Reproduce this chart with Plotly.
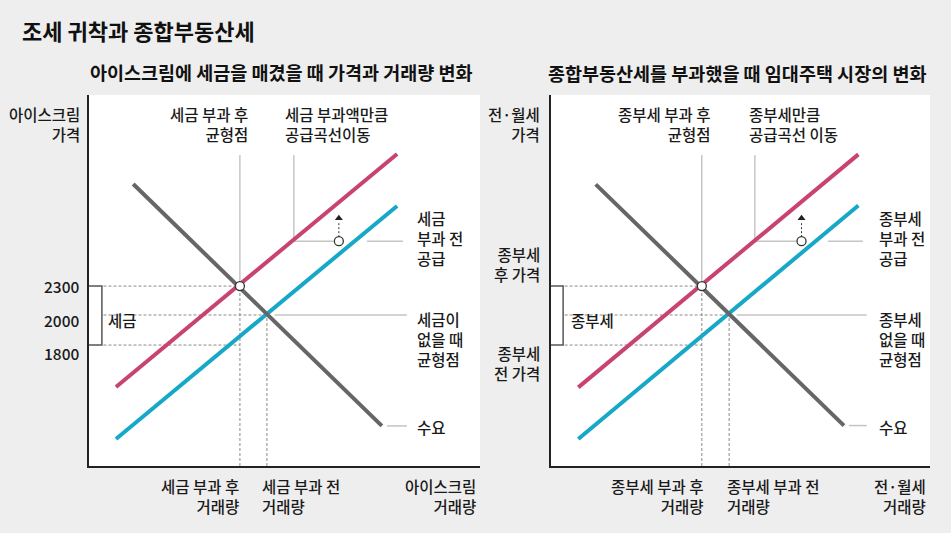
import plotly.graph_objects as go

W, H = 951, 533

# ---------------- data (schematic units, 0-100 on both axes) ----------------
# Left panel: 아이스크림
ice_demand_x = [11.3, 74.9]
ice_demand_y = [76.0, 10.8]
ice_supply_after_x = [6.9, 78.8]
ice_supply_after_y = [21.3, 84.1]
ice_supply_before_x = [6.9, 78.8]
ice_supply_before_y = [7.3, 70.1]
ice_eq_after = [38.6, 48.5]
ice_eq_before = [45.5, 40.7]
ice_price_low = 32.6
ice_shift_point = [63.9, 60.6]
ice_shift_tip = 66.8
ice_price_labels = ["2300", "2000", "1800"]

# Right panel: 임대주택 시장
re_demand_x = [11.8, 77.3]
re_demand_y = [75.9, 10.9]
re_supply_after_x = [7.2, 81.1]
re_supply_after_y = [21.2, 84.0]
re_supply_before_x = [7.2, 81.1]
re_supply_before_y = [7.3, 70.2]
re_eq_after = [39.8, 48.5]
re_eq_before = [47.0, 40.7]
re_price_low = 32.6
re_shift_point = [66.1, 60.6]
re_shift_tip = 66.8

RED = "#c8446f"
BLUE = "#17a8c8"
DEM = "#666666"
LEAD = "#a8a8a8"
DOT = "#8a8a8a"
TXT = "#1a1a1a"
FONT = "Noto Sans CJK KR"

fig = go.Figure()


def seg(xs, ys, xa, ya, color, width, dash=None):
    fig.add_trace(go.Scatter(
        x=xs, y=ys, xaxis=xa, yaxis=ya, mode="lines",
        line=dict(color=color, width=width, dash=dash),
        hoverinfo="skip", showlegend=False))


def panel(xa, ya, dem_x, dem_y, sa_x, sa_y, sb_x, sb_y, eq_a, eq_b, p_low,
          shift_pt, shift_tip, lead_x, gap_x, lead_end, bracket_x):
    dotted = "3px,2px"
    # dotted guides
    seg([bracket_x + 0.4, eq_a[0]], [eq_a[1], eq_a[1]], xa, ya, DOT, 1, dotted)
    seg([bracket_x + 0.4, eq_b[0]], [eq_b[1], eq_b[1]], xa, ya, DOT, 1, dotted)
    seg([bracket_x + 0.4, eq_a[0]], [p_low, p_low], xa, ya, DOT, 1, dotted)
    seg([eq_a[0], eq_a[0]], [0, eq_a[1]], xa, ya, DOT, 1, dotted)
    seg([eq_b[0], eq_b[0]], [0, eq_b[1]], xa, ya, DOT, 1, dotted)
    # solid leader lines
    seg([eq_a[0], eq_a[0]], [eq_a[1], 83.8], xa, ya, LEAD, 1)
    seg([lead_x, lead_x], [shift_pt[1], 83.8], xa, ya, LEAD, 1)
    seg([lead_x, shift_pt[0] - 1.4], [shift_pt[1], shift_pt[1]], xa, ya, LEAD, 1)
    seg([gap_x, lead_end], [shift_pt[1], shift_pt[1]], xa, ya, LEAD, 1)
    seg([eq_b[0] + 2.0, lead_end + 1.0], [eq_b[1], eq_b[1]], xa, ya, LEAD, 1)
    seg([dem_x[1] + 1.3, lead_end + 1.0], [dem_y[1], dem_y[1]], xa, ya, "#c4c4c4", 1.5)
    # bracket
    seg([0, bracket_x, bracket_x, 0], [eq_a[1], eq_a[1], p_low, p_low], xa, ya, "#555555", 1.5)
    # curves
    seg(sb_x, sb_y, xa, ya, BLUE, 4)
    seg(sa_x, sa_y, xa, ya, RED, 4)
    seg(dem_x, dem_y, xa, ya, DEM, 4)
    # shift arrow (dotted stem + head)
    seg([shift_pt[0], shift_pt[0]], [shift_pt[1], shift_tip - 1.0], xa, ya, "#333333", 1, "2px,2px")
    fig.add_trace(go.Scatter(
        x=[shift_pt[0]], y=[shift_tip], xaxis=xa, yaxis=ya, mode="markers",
        marker=dict(symbol="triangle-up", size=7, color="#222222"),
        hoverinfo="skip", showlegend=False))
    # circles
    fig.add_trace(go.Scatter(
        x=[eq_a[0], shift_pt[0]], y=[eq_a[1], shift_pt[1]], xaxis=xa, yaxis=ya,
        mode="markers",
        marker=dict(symbol="circle", size=9, color="white",
                    line=dict(color="#333333", width=1.3)),
        hoverinfo="skip", showlegend=False))


panel("x", "y", ice_demand_x, ice_demand_y, ice_supply_after_x, ice_supply_after_y,
      ice_supply_before_x, ice_supply_before_y, ice_eq_after, ice_eq_before,
      ice_price_low, ice_shift_point, ice_shift_tip,
      lead_x=52.4, gap_x=71.1, lead_end=80.3, bracket_x=3.3)
panel("x2", "y2", re_demand_x, re_demand_y, re_supply_after_x, re_supply_after_y,
      re_supply_before_x, re_supply_before_y, re_eq_after, re_eq_before,
      re_price_low, re_shift_point, re_shift_tip,
      lead_x=53.8, gap_x=73.1, lead_end=82.3, bracket_x=3.2)

annotations = []


def ann(text, x, y, xanchor="left", size=15.5, bold=False, color=TXT):
    annotations.append(dict(
        text=text, x=x / W, y=1 - y / H, xref="paper", yref="paper",
        xanchor=xanchor, yanchor="middle", align=xanchor if xanchor != "center" else "center",
        showarrow=False,
        font=dict(family=FONT, size=size, color=color, weight=700 if bold else 500)))


# titles
ann("조세 귀착과 종합부동산세", 20, 30, "left", 22, True, "#111111")
ann("아이스크림에 세금을 매겼을 때 가격과 거래량 변화", 281.5, 72, "center", 18.5, True, "#111111")
ann("종합부동산세를 부과했을 때 임대주택 시장의 변화", 737, 73, "center", 18.5, True, "#111111")

# left panel labels
ann("아이스크림<br>가격", 82, 124, "right")
ann("세금 부과 후<br>균형점", 250, 124, "right")
ann("세금 부과액만큼<br>공급곡선이동", 283, 124, "left")
ann("세금<br>부과 전<br>공급", 415, 238, "left")
ann("세금이<br>없을 때<br>균형점", 415, 339, "left")
ann("수요", 415, 427, "left")
for lab, yy in zip(ice_price_labels, [286, 320, 353]):
    ann(lab, 82, yy, "right")
ann("세금", 106, 320, "left")
ann("세금 부과 후<br>거래량", 241, 495.5, "right")
ann("세금 부과 전<br>거래량", 260, 495.5, "left")
ann("아이스크림<br>거래량", 478, 495.5, "right")

# right panel labels
ann("전·월세<br>가격", 542, 124, "right")
ann("종부세<br>후 가격", 542, 263.5, "right")
ann("종부세<br>전 가격", 542, 363, "right")
ann("종부세 부과 후<br>균형점", 713, 124, "right")
ann("종부세만큼<br>공급곡선 이동", 747, 124, "left")
ann("종부세<br>부과 전<br>공급", 877, 238, "left")
ann("종부세<br>없을 때<br>균형점", 877, 339, "left")
ann("수요", 877, 427, "left")
ann("종부세", 569, 320, "left")
ann("종부세 부과 후<br>거래량", 706, 495.5, "right")
ann("종부세 부과 전<br>거래량", 725, 495.5, "left")
ann("전·월세<br>거래량", 928, 495.5, "right")

ax_common = dict(range=[0, 100], showgrid=False, zeroline=False, showticklabels=False,
                 ticks="", showline=True, linecolor="#222222", linewidth=2,
                 mirror=False, fixedrange=True)
ydom = [67 / H, 438 / H]

fig.update_layout(
    width=W, height=H,
    margin=dict(l=0, r=0, t=0, b=0),
    paper_bgcolor="#eeeeee",
    plot_bgcolor="white",
    showlegend=False,
    xaxis=dict(domain=[89 / W, 480 / W], anchor="y", **ax_common),
    yaxis=dict(domain=ydom, anchor="x", **ax_common),
    xaxis2=dict(domain=[551 / W, 930 / W], anchor="y2", **ax_common),
    yaxis2=dict(domain=ydom, anchor="x2", **ax_common),
    annotations=annotations,
)

fig.write_html(
    "out.html",
    config={"displayModeBar": False},
    post_script="document.body.style.margin='0';document.body.style.padding='0';"
                "document.body.style.overflow='hidden';",
)
